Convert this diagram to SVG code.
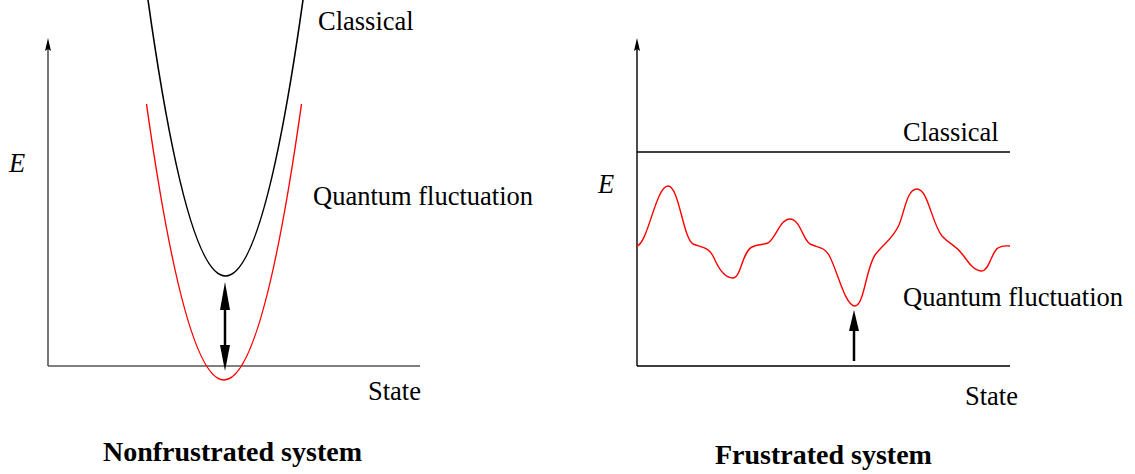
<svg xmlns="http://www.w3.org/2000/svg" width="1135" height="474" viewBox="0 0 1135 474">
<style>
text{font-family:"Liberation Serif","Times New Roman",serif;font-size:26.5px;fill:#000}
.title{font-weight:bold;font-size:28px}
.it{font-style:italic}
.axisL{stroke:#555;stroke-width:1.6;fill:none}
.axisR{stroke:#000;stroke-width:1.4;fill:none}
.black{stroke:#000;stroke-width:1.6;fill:none}
.red{stroke:#f00;stroke-width:1.4;fill:none}
.shaft{stroke:#000;stroke-width:2.5;fill:none}
.head{fill:#000;stroke:none}
</style>
<rect width="1135" height="474" fill="#fff"/>
<g id="left-panel">
  <g id="left-axes">
    <path class="axisL" d="M48,366 V48 M48,366 H420"/>
    <polygon class="head" points="48,38 45,51 48,49 51,51"/>
  </g>
  <g id="left-classical">
    <path class="black" d="M148,0 Q225.5,552 303,0"/>
    <text x="318" y="30">Classical</text>
  </g>
  <g id="left-quantum">
    <path class="red" d="M146.5,104 Q224,656 301.5,104"/>
    <text x="313" y="205">Quantum fluctuation</text>
  </g>
  <g id="left-labels">
    <text class="it" x="9" y="172">E</text>
    <text x="368" y="400">State</text>
    <text class="title" x="103" y="461">Nonfrustrated system</text>
  </g>
</g>
<g id="right-panel">
  <g id="right-axes">
    <path class="axisR" d="M637,366 V48 M637,366 H1010"/>
    <polygon class="head" points="637,38 634,51 637,49 640,51"/>
  </g>
  <g id="right-classical">
    <path class="axisR" d="M637,152 H1010"/>
    <text x="903" y="141">Classical</text>
  </g>
  <g id="right-quantum">
    <path class="red" d="M637,246 C648,243 656,186 668,186 C679,186 683,238 693,244 C703,248 709,247 714,258 C720,272 726,278 733,278 C741,278 742,252 752,247 C758,244 763,245 768,243 C776,238 780,219 790,219 C800,219 803,240 810,244 C818,248 823,246 829,255 C838,272 845,306 855,306 C864,306 866,268 875,255 C883,244 892,240 899,225 C905,210 907,189 917,189 C928,189 932,224 942,236 C950,245 956,245 963,255 C970,265 975,271 982,271 C989,271 992,251 998,248 C1003,245 1006,246 1010,246"/>
    <text x="903" y="306">Quantum fluctuation</text>
  </g>
  <g id="right-labels">
    <text class="it" x="598" y="193">E</text>
    <text x="965" y="405">State</text>
    <text class="title" x="715" y="464">Frustrated system</text>
  </g>
</g>
<g id="connectors">
  <path class="shaft" d="M225,300 V355"/>
  <polygon class="head" points="225,282 220,310 230,310"/>
  <polygon class="head" points="225,371 220,345 230,345"/>
  <path class="shaft" d="M854,325 V361"/>
  <polygon class="head" points="854,310 849,331 859,331"/>
</g>
</svg>
